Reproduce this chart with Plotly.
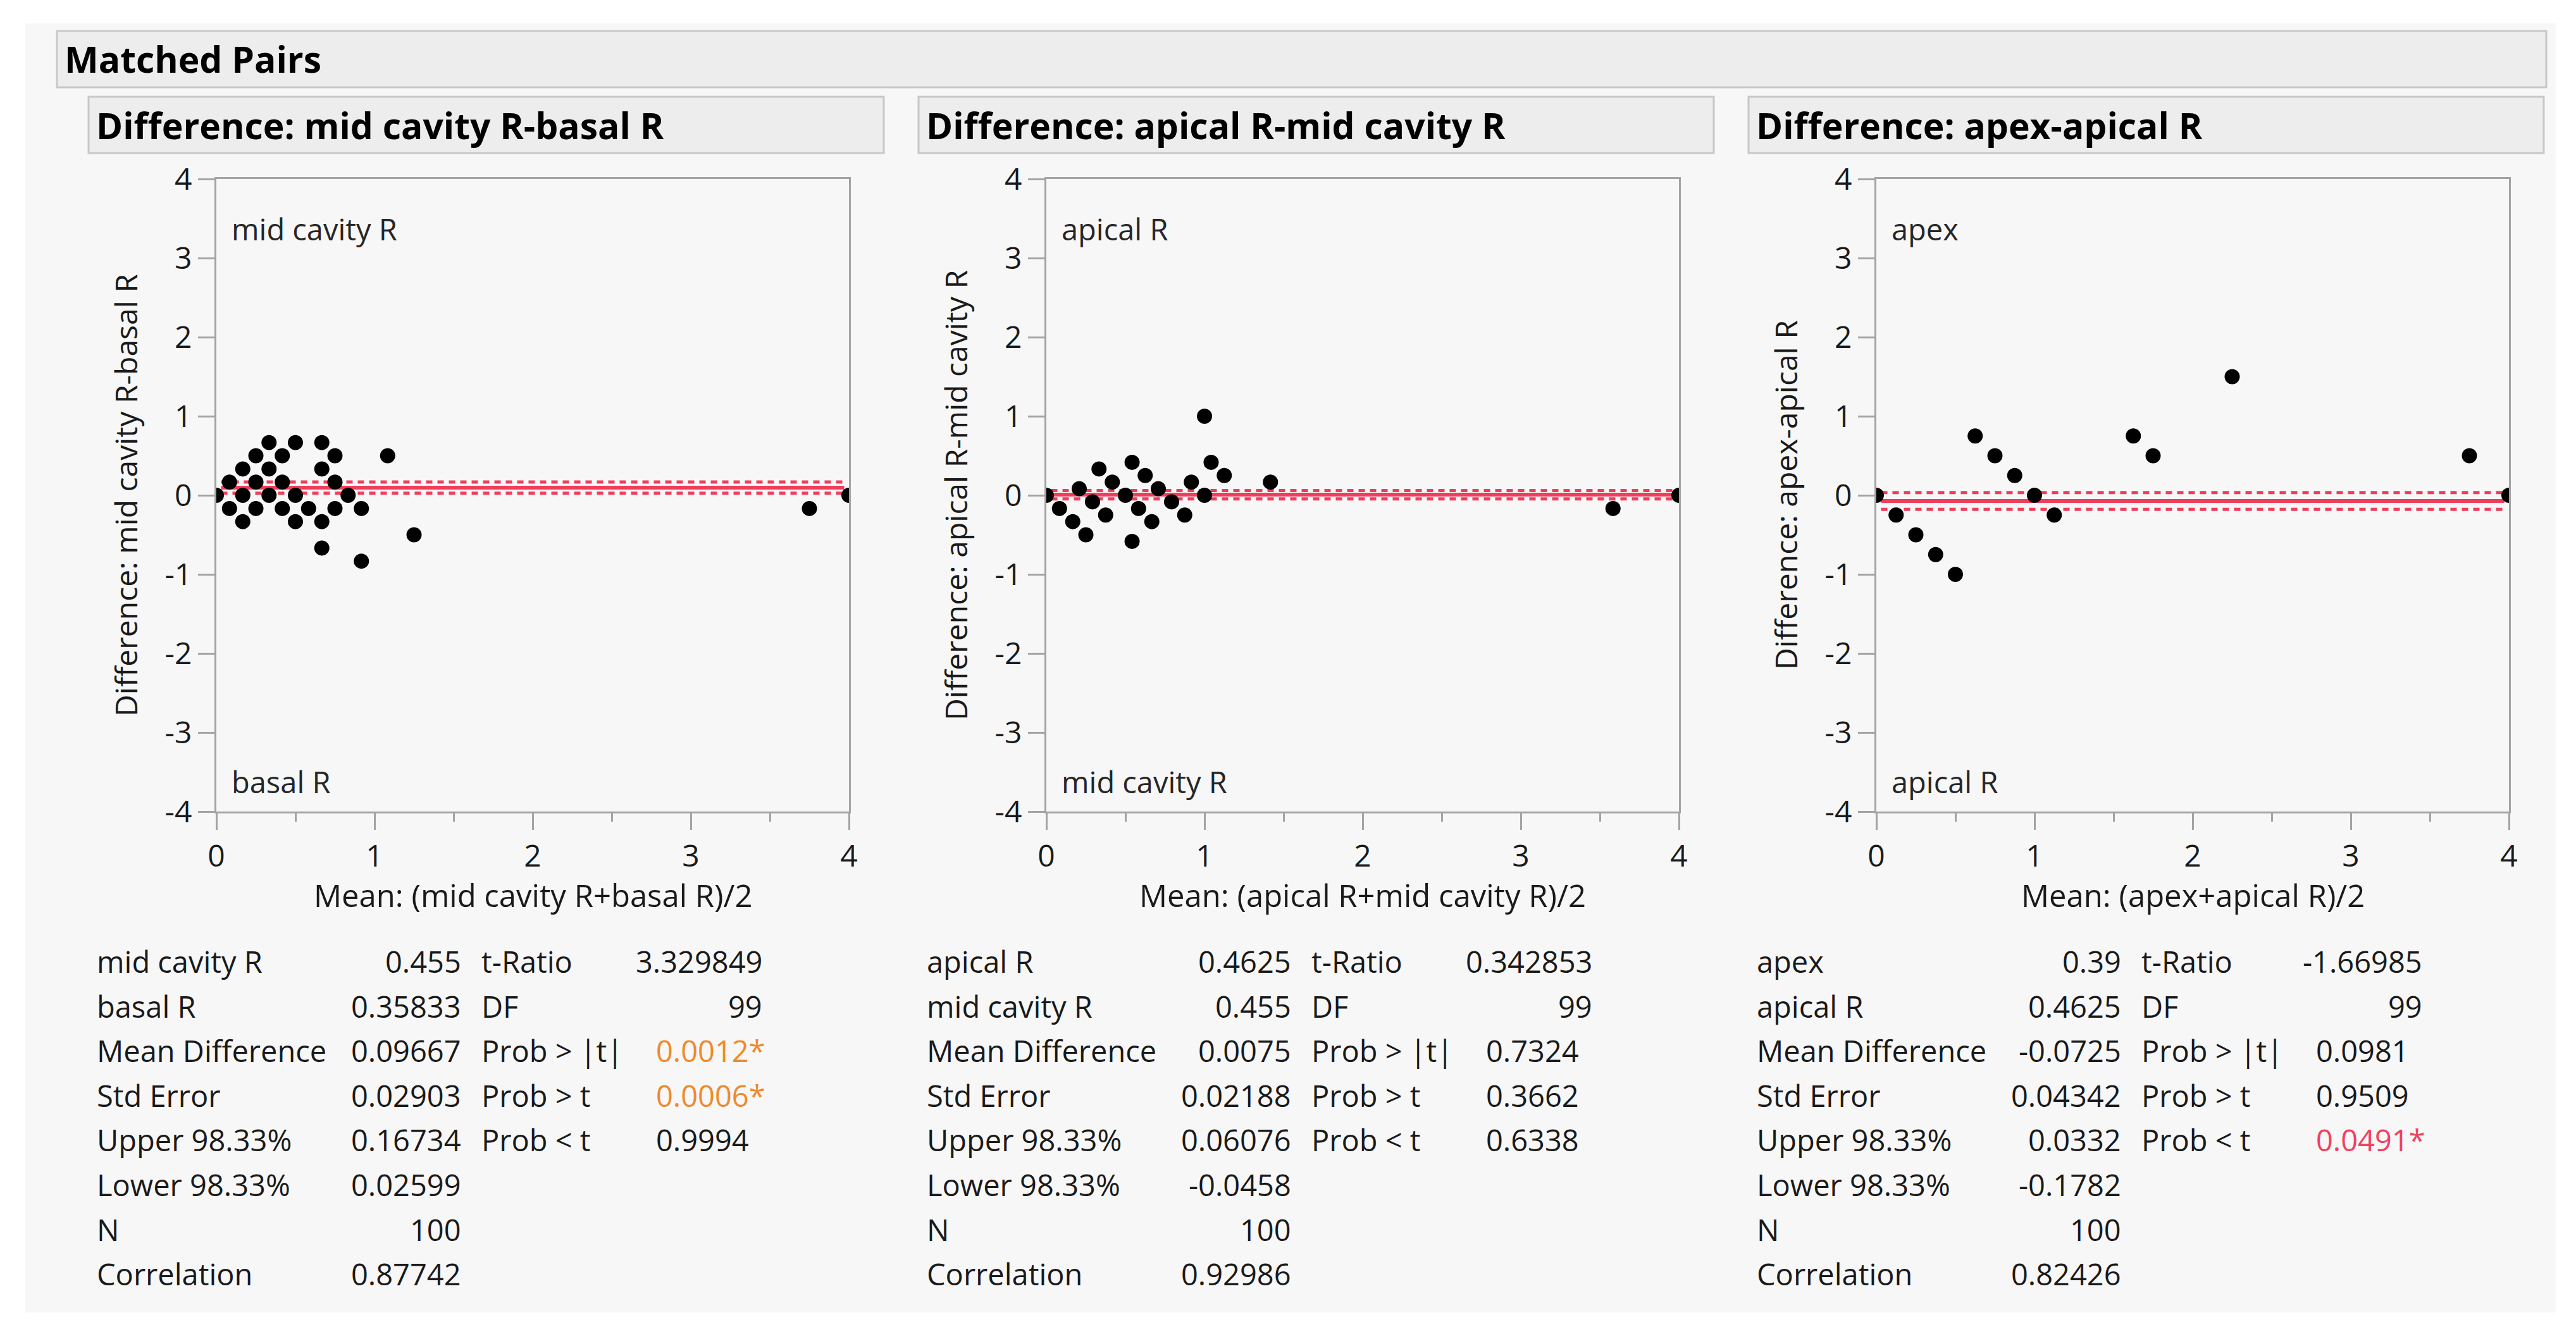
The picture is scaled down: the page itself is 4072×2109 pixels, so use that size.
import plotly.graph_objects as go

# ---------------- data ----------------
panel_titles = ["Difference: mid cavity R-basal R",
                "Difference: apical R-mid cavity R",
                "Difference: apex-apical R"]
x_titles = ["Mean: (mid cavity R+basal R)/2",
            "Mean: (apical R+mid cavity R)/2",
            "Mean: (apex+apical R)/2"]
top_vars = ["mid cavity R", "apical R", "apex"]
bottom_vars = ["basal R", "mid cavity R", "apical R"]

x_tick_vals = [0, 1, 2, 3, 4]
x_tick_text = ["0", "1", "2", "3", "4"]
y_tick_vals = [-4, -3, -2, -1, 0, 1, 2, 3, 4]
y_tick_text = ["-4", "-3", "-2", "-1", "0", "1", "2", "3", "4"]

# panel 1: mean of pair vs difference
p1_mean = [0, 0.083, 0.083, 0.167, 0.167, 0.167, 0.25, 0.25, 0.25, 0.333, 0.333, 0.333,
           0.417, 0.417, 0.417, 0.5, 0.5, 0.5, 0.583, 0.667, 0.667, 0.667, 0.667,
           0.75, 0.75, 0.75, 0.833, 0.917, 0.917, 1.083, 1.25, 3.75, 4.0]
p1_diff = [0, 0.167, -0.167, 0.333, 0, -0.333, 0.5, 0.167, -0.167, 0.667, 0.333, 0,
           0.5, 0.167, -0.167, 0.667, 0, -0.333, -0.167, 0.667, 0.333, -0.333, -0.667,
           0.5, 0.167, -0.167, 0, -0.167, -0.833, 0.5, -0.5, -0.167, 0]

# panel 2
p2_mean = [0, 0.083, 0.167, 0.208, 0.25, 0.292, 0.333, 0.375, 0.417, 0.5, 0.542, 0.542,
           0.583, 0.625, 0.667, 0.708, 0.792, 0.875, 0.917, 1.0, 1.0, 1.042, 1.125,
           1.417, 3.583, 4.0]
p2_diff = [0, -0.167, -0.333, 0.083, -0.5, -0.083, 0.333, -0.25, 0.167, 0, 0.417, -0.583,
           -0.167, 0.25, -0.333, 0.083, -0.083, -0.25, 0.167, 1.0, 0, 0.417, 0.25,
           0.167, -0.167, 0]

# panel 3
p3_mean = [0, 0.125, 0.25, 0.375, 0.5, 0.625, 0.75, 0.875, 1.0, 1.125, 1.625, 1.75,
           2.25, 3.75, 4.0]
p3_diff = [0, -0.25, -0.5, -0.75, -1.0, 0.75, 0.5, 0.25, 0, -0.25, 0.75, 0.5,
           1.5, 0.5, 0]

means_x = [p1_mean, p2_mean, p3_mean]
diffs_y = [p1_diff, p2_diff, p3_diff]

# summary statistics
mean_diff = [0.09667, 0.0075, -0.0725]
upper_ci = [0.16734, 0.06076, 0.0332]
lower_ci = [0.02599, -0.0458, -0.1782]

left_labels = [
    ["mid cavity R", "basal R", "Mean Difference", "Std Error", "Upper 98.33%", "Lower 98.33%", "N", "Correlation"],
    ["apical R", "mid cavity R", "Mean Difference", "Std Error", "Upper 98.33%", "Lower 98.33%", "N", "Correlation"],
    ["apex", "apical R", "Mean Difference", "Std Error", "Upper 98.33%", "Lower 98.33%", "N", "Correlation"],
]
left_values = [
    ["0.455", "0.35833", "0.09667", "0.02903", "0.16734", "0.02599", "100", "0.87742"],
    ["0.4625", "0.455", "0.0075", "0.02188", "0.06076", "-0.0458", "100", "0.92986"],
    ["0.39", "0.4625", "-0.0725", "0.04342", "0.0332", "-0.1782", "100", "0.82426"],
]
right_labels = ["t-Ratio", "DF", "Prob > |t|", "Prob > t", "Prob < t"]
t_ratio = ["3.329849", "0.342853", "-1.66985"]
dfs = ["99", "99", "99"]
prob_two = ["0.0012*", "0.7324", "0.0981"]
prob_gt = ["0.0006*", "0.3662", "0.9509"]
prob_lt = ["0.9994", "0.6338", "0.0491*"]

# ---------------- layout helpers ----------------
W, H = 4072, 2109
FONT = "Segoe UI, Open Sans, Noto Sans, sans-serif"
TXT = "#1a1a1a"
ORANGE = "#ee8a2e"
RED_P = "#f2405e"
LINE_RED = "#ef3e5c"
FRAME = "#a3a3a3"


def px(x):
    return x / W


def py(y):
    return 1 - y / H


def p_color(s):
    if not s.endswith("*"):
        return TXT
    return ORANGE if float(s[:-1]) < 0.01 else RED_P


fig = go.Figure()
shapes = []
annotations = []


def note(x, y, text, size, anchor="left", color=TXT, angle=0, xref="paper", yref="paper"):
    annotations.append(dict(xref=xref, yref=yref, x=x, y=y, xanchor=anchor, yanchor="middle",
                            text=text, showarrow=False, textangle=angle,
                            font=dict(family=FONT, size=size, color=color)))


# outer gray panel
shapes.append(dict(type="rect", xref="paper", yref="paper", x0=px(40), x1=px(4040),
                   y0=py(2075), y1=py(37), fillcolor="#f7f7f7", line=dict(width=0), layer="below"))
# main header
shapes.append(dict(type="rect", xref="paper", yref="paper", x0=px(90), x1=px(4025),
                   y0=py(138), y1=py(49), fillcolor="#ededed",
                   line=dict(color="#c8c8c8", width=3), layer="below"))
note(px(100), py(93), "<b>Matched Pairs</b>", 57, color="#000000")

PLOT_TOP, PLOT_BOT = 283, 1283
STEP = 1312
TABLE_SIZE = 47

for k in range(3):
    off = STEP * k
    # panel header
    shapes.append(dict(type="rect", xref="paper", yref="paper", x0=px(140 + off), x1=px(1397 + off),
                       y0=py(242), y1=py(153), fillcolor="#ededed",
                       line=dict(color="#c8c8c8", width=3), layer="below"))
    note(px(150 + off), py(198), "<b>" + panel_titles[k] + "</b>", 57, color="#000000")

    xa = "x" if k == 0 else "x%d" % (k + 1)
    ya = "y" if k == 0 else "y%d" % (k + 1)
    xkey = "xaxis" if k == 0 else "xaxis%d" % (k + 1)
    ykey = "yaxis" if k == 0 else "yaxis%d" % (k + 1)

    x0p, x1p = 342 + off, 1342 + off
    axis_common = dict(showline=True, linecolor=FRAME, linewidth=3, mirror=True,
                       showgrid=False, zeroline=False, ticks="outside", ticklen=26,
                       tickwidth=3, tickcolor=FRAME, automargin=False,
                       tickfont=dict(family=FONT, size=48, color=TXT),
                       fixedrange=True)
    fig.update_layout(**{
        xkey: dict(domain=[px(x0p), px(x1p)], range=[0, 4], anchor=ya,
                   tickmode="array", tickvals=x_tick_vals, ticktext=x_tick_text,
                   minor=dict(dtick=0.5, ticks="outside", ticklen=13, tickwidth=3,
                              tickcolor=FRAME),
                   **axis_common),
        ykey: dict(domain=[py(PLOT_BOT), py(PLOT_TOP)], range=[-4, 4], anchor=xa,
                   tickmode="array", tickvals=y_tick_vals, ticktext=y_tick_text,
                   **axis_common),
    })

    # mean difference and confidence lines
    xr = [0.03, 3.97]
    fig.add_trace(go.Scatter(x=xr, y=[mean_diff[k]] * 2, mode="lines", xaxis=xa, yaxis=ya,
                             line=dict(color=LINE_RED, width=6), hoverinfo="skip", showlegend=False))
    for v in (upper_ci[k], lower_ci[k]):
        fig.add_trace(go.Scatter(x=xr, y=[v] * 2, mode="lines", xaxis=xa, yaxis=ya,
                                 line=dict(color=LINE_RED, width=5, dash="10px,8px"),
                                 hoverinfo="skip", showlegend=False))
    # points
    fig.add_trace(go.Scatter(x=means_x[k], y=diffs_y[k], mode="markers", xaxis=xa, yaxis=ya,
                             marker=dict(color="#000000", size=24, line=dict(width=0)),
                             showlegend=False, cliponaxis=True))

    # labels inside plot
    note(0.022, 0.921, top_vars[k], 47, color="#262626", xref=xa + " domain", yref=ya + " domain")
    note(0.022, 0.047, bottom_vars[k], 47, color="#262626", xref=xa + " domain", yref=ya + " domain")
    # axis titles
    note(px((x0p + x1p) / 2), py(1415), x_titles[k], 49, anchor="center")
    note(px(199 + off), py((PLOT_TOP + PLOT_BOT) / 2), panel_titles[k], 48, anchor="center", angle=-90)

    # statistics table
    L = 151 + off
    for r in range(8):
        yy = py(1520 + 70.6 * r)
        note(px(L), yy, left_labels[k][r], TABLE_SIZE)
        note(px(L + 580), yy, left_values[k][r], TABLE_SIZE, anchor="right")
    right_vals = [t_ratio[k], dfs[k], prob_two[k], prob_gt[k], prob_lt[k]]
    for r in range(5):
        yy = py(1520 + 70.6 * r)
        note(px(L + 608), yy, right_labels[r], TABLE_SIZE)
        if r < 2:
            note(px(L + 1056), yy, right_vals[r], TABLE_SIZE, anchor="right")
        else:
            note(px(L + 884), yy, right_vals[r], TABLE_SIZE, color=p_color(right_vals[r]))

fig.update_layout(template="none", width=W, height=H,
                  margin=dict(l=0, r=0, t=0, b=0, pad=0, autoexpand=False),
                  paper_bgcolor="#ffffff", plot_bgcolor="#ffffff",
                  shapes=shapes, annotations=annotations, showlegend=False)

fig.write_html("out.html", config={"displayModeBar": False},
               post_script="document.body.style.margin='0px';document.body.style.overflow='hidden';")
